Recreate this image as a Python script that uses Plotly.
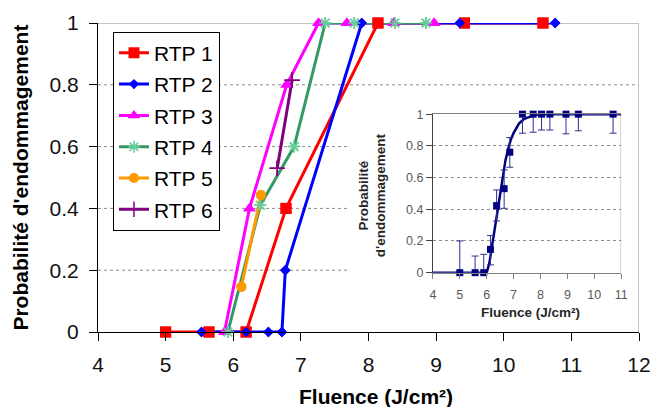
import plotly.graph_objects as go

# ---------------- main chart data ----------------
rtp1_x = [5.0, 5.64, 6.19, 6.78, 8.14, 9.42, 10.58]
rtp1_y = [0, 0, 0, 0.4, 1, 1, 1]
rtp2_x = [5.53, 6.19, 6.52, 6.72, 6.77, 7.90, 9.35, 10.76]
rtp2_y = [0, 0, 0, 0, 0.2, 1, 1, 1]
rtp3_x = [5.87, 6.24, 6.79, 7.26, 7.68, 8.37, 8.97]
rtp3_y = [0, 0.4, 0.8, 1, 1, 1, 1]
rtp4_x = [5.92, 6.40, 6.90, 7.36, 7.79, 8.39, 8.85]
rtp4_y = [0, 0.41, 0.6, 1, 1, 1, 1]
rtp5_x = [6.12, 6.41]
rtp5_y = [0.146, 0.443]
rtp6_x = [6.65, 6.87]
rtp6_y = [0.53, 0.815]

series_names = ["RTP 1", "RTP 2", "RTP 3", "RTP 4", "RTP 5", "RTP 6"]

# ---------------- inset data ----------------
inset_x = [5.0, 5.57, 5.89, 6.14, 6.37, 6.65, 6.86, 7.33, 7.73, 8.04, 8.35, 8.95, 9.41, 10.70]
inset_y = [0, 0, 0, 0.147, 0.423, 0.53, 0.76, 1, 1, 1, 1, 1, 1, 1]
inset_err_plus = [0.2, 0.105, 0.116, 0.087, 0.099, 0.118, 0.092, 0, 0, 0, 0, 0, 0, 0]
inset_err_minus = [0, 0, 0, 0.098, 0.097, 0.124, 0.095, 0.12, 0.114, 0.10, 0.10, 0.124, 0.105, 0.12]

fit_x = [3.9, 6.0, 6.1, 6.2, 6.3, 6.4, 6.5, 6.6, 6.7, 6.8, 6.9, 7.0, 7.2, 7.4, 7.6, 7.8, 8.0, 11.15]
fit_y = [0, 0, 0.06, 0.17, 0.29, 0.41, 0.52, 0.62, 0.71, 0.78, 0.84, 0.88, 0.94, 0.97, 0.985, 0.995, 1.0, 1.0]

x_ticks = [4, 5, 6, 7, 8, 9, 10, 11, 12]
y_ticks = [0, 0.2, 0.4, 0.6, 0.8, 1]
inset_x_ticks = [4, 5, 6, 7, 8, 9, 10, 11]

FONT = "Arial, 'Liberation Sans', sans-serif"

styles = [
    dict(color="#FF0000", symbol="square", size=11, mline=None),
    dict(color="#0000FF", symbol="diamond", size=8, mline=None),
    dict(color="#FF00FF", symbol="triangle-up", size=11, mline=None),
    dict(color="#339966", symbol="asterisk-open", size=10, mline="#66CC99"),
    dict(color="#FF9900", symbol="circle", size=10, mline=None),
    dict(color="#800080", symbol="cross-thin-open", size=11, mline="#800080"),
]
data = [(rtp1_x, rtp1_y), (rtp2_x, rtp2_y), (rtp3_x, rtp3_y),
        (rtp4_x, rtp4_y), (rtp5_x, rtp5_y), (rtp6_x, rtp6_y)]

fig = go.Figure()


def marker_for(st):
    if st["mline"]:
        return dict(symbol=st["symbol"], size=st["size"], color=st["mline"],
                    line=dict(color=st["mline"], width=1.5))
    return dict(symbol=st["symbol"], size=st["size"], color=st["color"], line=dict(width=0))


for name, (xs, ys), st in zip(series_names, data, styles):
    fig.add_trace(go.Scatter(
        x=xs, y=ys, name=name, mode="lines+markers", legendgroup=name,
        line=dict(color=st["color"], width=3), marker=marker_for(st),
        cliponaxis=False, xaxis="x", yaxis="y"))
# markers drawn on top of all lines (as in the original)
for name, (xs, ys), st in zip(series_names, data, styles):
    fig.add_trace(go.Scatter(
        x=xs, y=ys, name=name, mode="markers", legendgroup=name, showlegend=False,
        marker=marker_for(st), cliponaxis=False, xaxis="x", yaxis="y"))

# inset
fig.add_trace(go.Scatter(
    x=fit_x, y=fit_y, mode="lines", showlegend=False,
    line=dict(color="#000080", width=2.5), cliponaxis=False, xaxis="x2", yaxis="y2"))
fig.add_trace(go.Scatter(
    x=inset_x, y=inset_y, mode="markers", showlegend=False,
    marker=dict(symbol="square", size=7, color="#000080"),
    error_y=dict(type="data", symmetric=False, array=inset_err_plus,
                 arrayminus=inset_err_minus, color="#2E2E8F", thickness=1, width=3.5),
    cliponaxis=False, xaxis="x2", yaxis="y2"))

GRID = "#8C8C8C"
shapes = []
# main gridlines (hidden behind inset panel for 0.2 – 0.6)
for yv, xe in [(0.2, 7.69), (0.4, 7.69), (0.6, 7.69), (0.8, 12)]:
    shapes.append(dict(type="line", xref="x", yref="y", x0=4, x1=xe, y0=yv, y1=yv,
                       line=dict(color=GRID, width=1, dash="3px,3px"), layer="below"))
# main plot-area border (top / right)
shapes.append(dict(type="line", xref="x", yref="y", x0=4, x1=12, y0=1, y1=1,
                   line=dict(color="#B0B0B0", width=1.5), layer="below"))
shapes.append(dict(type="line", xref="x", yref="y", x0=12, x1=12, y0=0, y1=1,
                   line=dict(color="#B0B0B0", width=1.5), layer="below"))
# inset right border
shapes.append(dict(type="line", xref="x2", yref="y2", x0=11, x1=11, y0=0, y1=1,
                   line=dict(color="#9A9A9A", width=1), layer="below"))

fig.update_layout(
    width=653, height=407,
    margin=dict(l=98, r=14, t=23, b=75, autoexpand=False),
    paper_bgcolor="white", plot_bgcolor="rgba(0,0,0,0)",
    font=dict(family=FONT, color="black"),
    showlegend=True,
    legend=dict(x=0.0277, y=0.972, xanchor="left", yanchor="top",
                bordercolor="black", borderwidth=1, bgcolor="white",
                font=dict(size=21, family=FONT, color="black"),
                traceorder="grouped", tracegroupgap=1, itemwidth=30),
    xaxis=dict(domain=[0, 1], range=[4, 12], tickvals=x_ticks, showgrid=False, zeroline=False,
               automargin=False,
               showline=True, linecolor="black", linewidth=1, ticks="outside", ticklen=8,
               tickcolor="black", tickfont=dict(size=21, color="#111"), ticklabelstandoff=6),
    yaxis=dict(domain=[0, 1], range=[0, 1], tickvals=y_ticks, showgrid=False, zeroline=False,
               automargin=False,
               showline=True, linecolor="black", linewidth=1, ticks="outside", ticklen=8,
               tickcolor="black", tickfont=dict(size=21, color="#111"), ticklabelstandoff=6),
    xaxis2=dict(domain=[0.619, 0.967], anchor="y2", range=[4, 11], tickvals=inset_x_ticks,
                automargin=False,
                showgrid=False, zeroline=False, showline=True, linecolor="#808080", mirror=True,
                ticks="outside", ticklen=5, tickcolor="#808080", ticklabelstandoff=5,
                tickfont=dict(size=12.5, color="#595959")),
    yaxis2=dict(domain=[0.192, 0.705], anchor="x2", range=[0, 1], tickvals=y_ticks,
                automargin=False,
                showgrid=True, gridcolor=GRID, griddash="3px,3px", gridwidth=1, zeroline=False,
                showline=True, linecolor="#404040", ticks="outside", ticklen=6,
                tickcolor="#404040", tickfont=dict(size=12.5, color="#595959")),
    shapes=shapes,
    annotations=[
        dict(text="<b>Fluence (J/cm²)</b>", xref="paper", yref="paper", x=0.514, y=-0.208,
             xanchor="center", yanchor="middle", showarrow=False,
             font=dict(size=21, color="black")),
        dict(text="<b>Probabilité d'endommagement</b>", xref="paper", yref="paper",
             x=-0.144, y=0.5, xanchor="center", yanchor="middle", textangle=-90,
             showarrow=False, font=dict(size=21, color="black")),
        dict(text="<b>Fluence (J/cm²)</b>", xref="paper", yref="paper", x=0.7994, y=0.0647,
             xanchor="center", yanchor="middle", showarrow=False,
             font=dict(size=13.5, color="#262626")),
        dict(text="<b>Probabilité<br>d'endommagement</b>", xref="paper", yref="paper",
             x=0.5074, y=0.4408, xanchor="center", yanchor="middle", textangle=-90,
             showarrow=False, font=dict(size=13.5, color="#262626")),
    ],
)

fig.write_html("out.html", config={"displayModeBar": False},
               post_script="document.body.style.margin='0';document.body.style.overflow='hidden';")
